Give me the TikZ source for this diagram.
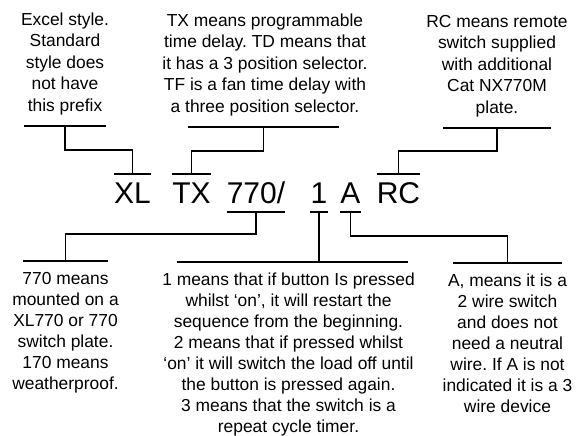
\documentclass[tikz,border=0pt]{standalone}
\usepackage{fontspec}
\setmainfont{Liberation Sans}
\usetikzlibrary{calc,positioning}
\frenchspacing

\begin{document}
\begin{tikzpicture}[x=1pt,y=-1pt,
  note/.style={align=center,inner sep=0pt,font=\fontsize{17.4}{21.5}\selectfont},
  lower/.style={note,font=\fontsize{17.4}{21}\selectfont},
  code/.style={anchor=base,inner sep=0pt,font=\fontsize{30}{30}\selectfont},
  bar/.style={line width=1.1pt},
  lead/.style={line width=1.1pt}]
\useasboundingbox (0,0) rectangle (579,436);
% the code itself
\node[code] (xl) at (132.5,203) {XL};
\node[code] (tx) at (191.5,203) {TX};
\node[code] (num) at (256,203) {770/};
\node[code] (btn) at (319,203) {1};
\node[code] (wire) at (350.5,203) {A};
\node[code] (rc) at (398.5,203) {RC};
% bars over and under the code
\foreach \p in {xl,tx,rc}{
  \coordinate (\p-top) at ($(\p.base)+(0,-29)$);
  \draw[bar] ($(\p.base west)+(0,-29)$) -- ($(\p.base east)+(0,-29)$);
}
\foreach \p in {num,btn,wire}{
  \coordinate (\p-bot) at ($(\p.base)+(0,9)$);
  \draw[bar] ($(\p.base west)+(0,9)$) -- ($(\p.base east)+(0,9)$);
}
% bars of the notes
\coordinate (pfx-bar) at (65,126);
\coordinate (tx-bar) at (263.5,127);
\coordinate (rc-bar) at (497,128);
\coordinate (num-bar) at (65.5,261);
\coordinate (btn-bar) at (292.5,262);
\coordinate (wire-bar) at (507.5,263);
\draw[bar] ($(pfx-bar)+(-41,0)$) -- ($(pfx-bar)+(41,0)$);
\draw[bar] ($(tx-bar)+(-75.5,0)$) -- ($(tx-bar)+(75.5,0)$);
\draw[bar] ($(rc-bar)+(-54,0)$) -- ($(rc-bar)+(54,0)$);
\draw[bar] ($(num-bar)+(-42.5,0)$) -- ($(num-bar)+(42.5,0)$);
\draw[bar] ($(btn-bar)+(-115.5,0)$) -- ($(btn-bar)+(115.5,0)$);
\draw[bar] ($(wire-bar)+(-54.5,0)$) -- ($(wire-bar)+(54.5,0)$);
% leads
\draw[lead] (xl-top) -- ++(0,-24) -| (pfx-bar);
\draw[lead] (tx-top) -- ++(0,-23) -| (tx-bar);
\draw[lead] (rc-top) -- ++(0,-23) -| (rc-bar);
\draw[lead] (num-bot) -- ++(0,22) -| (num-bar);
\draw[lead] (btn-bot) -- (btn-bot |- btn-bar);
\draw[lead] (wire-bot) -- ++(0,24) -| (wire-bar);
% notes
\node[note,above=11pt of pfx-bar] (pfx) {Excel style.\\Standard\\style does\\not have\\this prefix};
\node[note,above=11pt of tx-bar,xshift=1.5pt] (txnote) {TX means programmable\\time delay. TD means that\\it has a 3 position selector.\\TF is a fan time delay with\\a three position selector.};
\node[note,above=11pt of rc-bar] (rcnote) {RC means remote\\switch supplied\\with additional\\Cat NX770M\\plate.};
\node[lower,below=11pt of num-bar] (numnote) {770 means\\mounted on a\\XL770 or 770\\switch plate.\\170 means\\weatherproof.};
\node[lower,below=11pt of btn-bar,xshift=-4pt] (btnnote) {1 means that if button Is pressed\\whilst `on', it will restart the\\sequence from the beginning.\\2 means that if pressed whilst\\`on' it will switch the load off until\\the button is pressed again.\\3 means that the switch is a\\repeat cycle timer.};
\node[lower,below=11pt of wire-bar] (wirenote) {A, means it is a\\2 wire switch\\and does not\\need a neutral\\wire. If A is not\\indicated it is a 3\\wire device};
\end{tikzpicture}
\end{document}
